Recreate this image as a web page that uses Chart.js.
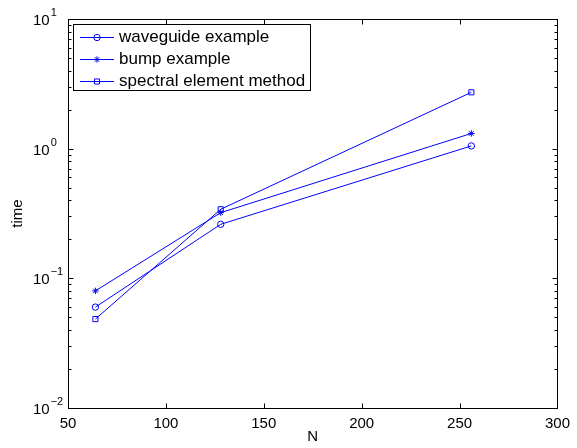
<!DOCTYPE html>
<html>
<head>
<meta charset="utf-8">
<script src="https://cdn.jsdelivr.net/npm/chart.js@4.4.1/dist/chart.umd.min.js"></script>
<style>
  html, body { margin: 0; padding: 0; background: #fff; }
  #wrap { width: 577px; height: 448px; position: relative; }
</style>
</head>
<body>
<div id="wrap"><canvas id="timeChart"></canvas></div>
<script>
// Dati (asse y logaritmico)
const N_VALUES = [64, 128, 256];
const WAVEGUIDE_TIME = [0.060, 0.261, 1.05];
const BUMP_TIME = [0.080, 0.321, 1.31];
const SPECTRAL_TIME = [0.0485, 0.341, 2.72];
const SERIES_NAMES = ['waveguide example', 'bump example', 'spectral element method'];
const SERIES_MARKERS = ['circle', 'star', 'rect'];
const X_TICKS = [50, 100, 150, 200, 250, 300];
const Y_EXPONENTS = [-2, -1, 0, 1];

const BLUE = '#0000ff';
const FONT = '"Liberation Sans", Arial, Helvetica, sans-serif';

function toPoints(values) {
    return N_VALUES.map((n, i) => ({ x: n, y: values[i] }));
}

function makeDataset(label, values, marker) {
    return {
        label: label,
        data: toPoints(values),
        borderColor: BLUE,
        borderWidth: 1,
        backgroundColor: 'rgba(0,0,0,0)',
        pointStyle: marker,
        pointRadius: marker === 'rect' ? 3.6 : 3.2,
        pointBorderColor: BLUE,
        pointBackgroundColor: 'rgba(0,0,0,0)',
        pointBorderWidth: 1,
        tension: 0
    };
}

/**
 * Disegna il riquadro stile MATLAB, le tacche interne, le etichette 10^k e la legenda.
 */
const matlabAxes = {
    id: 'matlabAxes',
    afterDraw(chart) {
        const { ctx, chartArea: a, scales: { x, y } } = chart;
        const L = Math.round(a.left) + 0.5, R = Math.round(a.right) + 0.5;
        const T = Math.round(a.top) + 0.5, B = Math.round(a.bottom) + 0.5;
        ctx.save();
        ctx.strokeStyle = '#000';
        ctx.lineWidth = 1;
        ctx.strokeRect(L, T, R - L, B - T);

        ctx.beginPath();
        // tacche asse x (sotto e sopra)
        X_TICKS.forEach(v => {
            const px = Math.round(x.getPixelForValue(v)) + 0.5;
            ctx.moveTo(px, B); ctx.lineTo(px, B - 5);
            ctx.moveTo(px, T); ctx.lineTo(px, T + 5);
        });
        // tacche asse y: principali e secondarie
        Y_EXPONENTS.forEach(e => {
            const py = Math.round(y.getPixelForValue(Math.pow(10, e))) + 0.5;
            ctx.moveTo(L, py); ctx.lineTo(L + 5, py);
            ctx.moveTo(R, py); ctx.lineTo(R - 5, py);
            if (e < Y_EXPONENTS[Y_EXPONENTS.length - 1]) {
                for (let m = 2; m <= 9; m++) {
                    const my = Math.round(y.getPixelForValue(m * Math.pow(10, e))) + 0.5;
                    ctx.moveTo(L, my); ctx.lineTo(L + 3, my);
                    ctx.moveTo(R, my); ctx.lineTo(R - 3, my);
                }
            }
        });
        ctx.stroke();

        // etichette 10^k
        ctx.fillStyle = '#000';
        ctx.textBaseline = 'middle';
        ctx.textAlign = 'left';
        Y_EXPONENTS.forEach(e => {
            const py = y.getPixelForValue(Math.pow(10, e));
            ctx.font = '15px ' + FONT;
            const bx = a.left - 35;
            ctx.fillText('10', bx, py + 2);
            const w = ctx.measureText('10').width;
            ctx.font = '11px ' + FONT;
            ctx.fillText(e < 0 ? '\u2212' + Math.abs(e) : String(e), bx + w + 1, py - 6);
        });

        // legenda
        const lx = a.left + 5, ly = a.top + 5;
        ctx.font = '17px ' + FONT;
        const textW = Math.max(...SERIES_NAMES.map(s => ctx.measureText(s).width));
        const boxW = Math.round(46 + textW + 5), boxH = 66;
        ctx.fillStyle = '#fff';
        ctx.fillRect(lx, ly, boxW, boxH);
        ctx.strokeStyle = '#000';
        ctx.strokeRect(Math.round(lx) + 0.5, Math.round(ly) + 0.5, boxW, boxH);
        chart.data.datasets.forEach((ds, i) => {
            const ry = ly + 12.5 + i * 22;
            ctx.strokeStyle = BLUE;
            ctx.lineWidth = 1;
            ctx.beginPath();
            ctx.moveTo(lx + 7, Math.round(ry) + 0.5);
            ctx.lineTo(lx + 41, Math.round(ry) + 0.5);
            ctx.stroke();
            ctx.fillStyle = 'rgba(0,0,0,0)';
            Chart.helpers.drawPoint(ctx, {
                pointStyle: ds.pointStyle,
                radius: ds.pointRadius,
                borderWidth: 1,
                rotation: 0
            }, lx + 24, Math.round(ry) + 0.5);
            ctx.fillStyle = '#000';
            ctx.textAlign = 'left';
            ctx.textBaseline = 'middle';
            ctx.font = '17px ' + FONT;
            ctx.fillText(ds.label, lx + 46, ry + 1);
        });
        ctx.restore();
    }
};

new Chart(document.getElementById('timeChart'), {
    type: 'line',
    data: {
        datasets: [
            makeDataset(SERIES_NAMES[0], WAVEGUIDE_TIME, SERIES_MARKERS[0]),
            makeDataset(SERIES_NAMES[1], BUMP_TIME, SERIES_MARKERS[1]),
            makeDataset(SERIES_NAMES[2], SPECTRAL_TIME, SERIES_MARKERS[2])
        ]
    },
    options: {
        responsive: true,
        maintainAspectRatio: false,
        animation: false,
        layout: { padding: { left: 0, right: 17, top: 19, bottom: 0 } },
        plugins: {
            legend: { display: false },
            tooltip: { enabled: false }
        },
        scales: {
            x: {
                type: 'linear',
                min: 50,
                max: 300,
                afterBuildTicks: scale => { scale.ticks = X_TICKS.map(v => ({ value: v })); },
                afterFit: scale => { scale.height = 40; },
                grid: { display: false, drawTicks: false },
                border: { display: false },
                ticks: {
                    padding: 7,
                    color: '#000',
                    font: { family: FONT, size: 15 },
                    maxRotation: 0
                },
                title: {
                    display: true,
                    text: 'N',
                    color: '#000',
                    font: { family: FONT, size: 15 },
                    padding: { top: 0, bottom: 2 }
                }
            },
            y: {
                type: 'logarithmic',
                min: 0.01,
                max: 10,
                afterBuildTicks: scale => { scale.ticks = Y_EXPONENTS.map(e => ({ value: Math.pow(10, e) })); },
                afterFit: scale => { scale.width = 68; },
                grid: { display: false, drawTicks: false },
                border: { display: false },
                ticks: { display: false },
                title: {
                    display: true,
                    text: 'time',
                    color: '#000',
                    font: { family: FONT, size: 15 },
                    padding: { top: 9, bottom: 0 }
                }
            }
        }
    },
    plugins: [matlabAxes]
});
</script>
</body>
</html>
